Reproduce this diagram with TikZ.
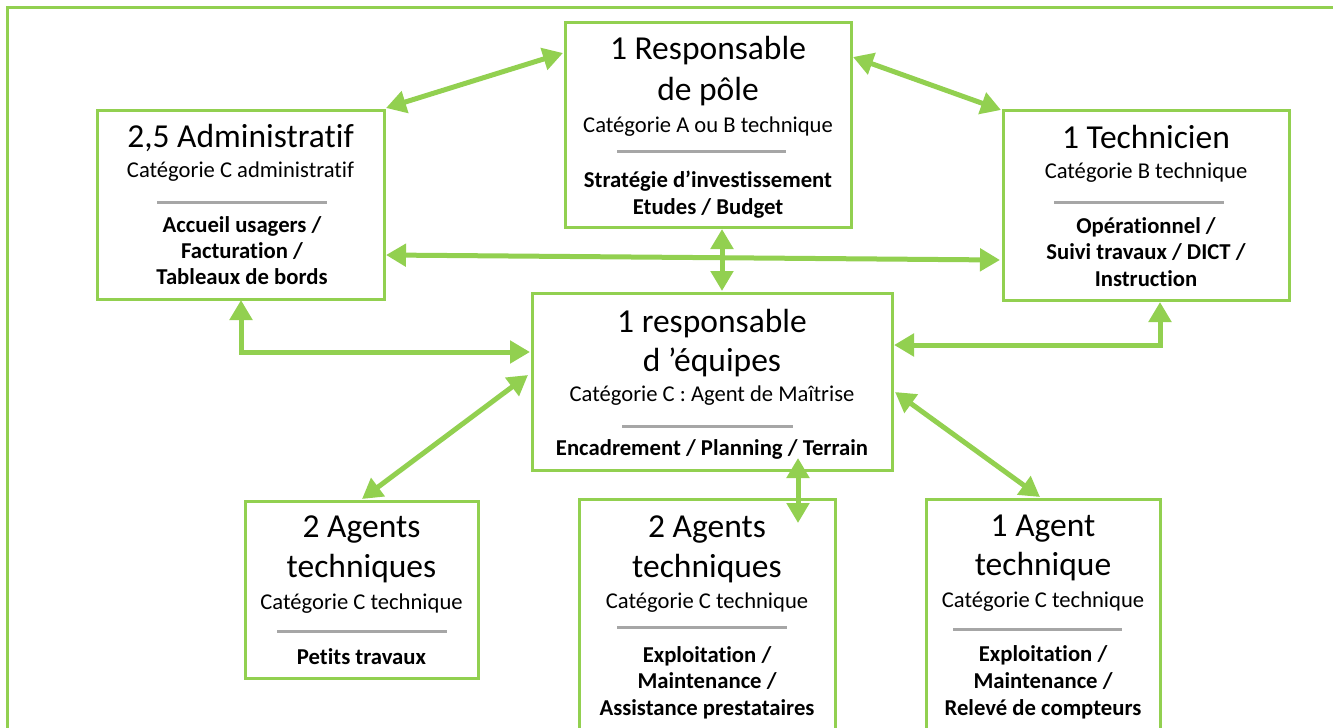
\documentclass[tikz,border=0pt]{standalone}
\usepackage{fontspec}
\setmainfont{Carlito}[Ligatures={NoCommon}]
\usetikzlibrary{arrows.meta}
\definecolor{grn}{HTML}{92D050}
\definecolor{rulegray}{HTML}{A6A6A6}
\tikzset{
  box/.style={draw=grn, line width=3pt, inner sep=0pt, fill=white},
  arr/.style={draw=grn, line width=5pt, {Triangle[length=20pt,width=22pt]}-{Triangle[length=20pt,width=22pt]}},
  ttl/.style={anchor=base, inner sep=0pt, font=\fontsize{33.5}{40}\selectfont},
  sub/.style={anchor=base, inner sep=0pt, font=\fontsize{22.6}{27}\selectfont},
  bld/.style={anchor=base, inner sep=0pt, font=\fontsize{22.7}{27}\selectfont\bfseries},
  hrule/.style={draw=rulegray, line width=3pt}
}
\begin{document}
\begin{tikzpicture}[x=1pt,y=-1pt]
\useasboundingbox (0,0) rectangle (1333,728);
\clip (0,0) rectangle (1333,728);
% outer frame
\draw[grn, line width=3pt] (7,760) -- (7,7) -- (1400,7);

% boxes
\node[box, minimum width=287pt, minimum height=189pt] (admin) at (240.5,204.5) {};
\node[box, minimum width=286pt, minimum height=205pt] (rp) at (708,124.5) {};
\node[box, minimum width=286pt, minimum height=190pt] (tech) at (1146,205) {};
\node[box, minimum width=360pt, minimum height=177pt] (re) at (712,381.5) {};
\node[box, minimum width=233pt, minimum height=177pt] (bl) at (361.5,589.5) {};
\node[box, minimum width=256pt, minimum height=242pt] (bc) at (707,620) {};
\node[box, minimum width=234pt, minimum height=242pt] (br) at (1043,620) {};

% admin texts
\node[ttl] (admin-t) at (240.5,147) {2,5 Administratif};
\node[sub] (admin-s) at (240.5,177) {Catégorie C administratif};
\draw[hrule] (157,202) -- (327,202);
\node[bld] (admin-b1) at (242,232) {Accueil usagers /};
\node[bld] (admin-b2) at (242,258) {Facturation /};
\node[bld] (admin-b3) at (242,284.5) {Tableaux de bords};

% responsable de pole
\node[ttl] (rp-t1) at (708,59) {1 Responsable};
\node[ttl] (rp-t2) at (708,100) {de pôle};
\node[sub] (rp-s) at (708,132) {Catégorie A ou B technique};
\draw[hrule] (617,151) -- (786,151);
\node[bld] (rp-b1) at (708,187) {Stratégie d’investissement};
\node[bld] (rp-b2) at (708,214) {Etudes / Budget};

% technicien
\node[ttl] (tech-t) at (1146,148) {1 Technicien};
\node[sub] (tech-s) at (1146,178) {Catégorie B technique};
\draw[hrule] (1054,202) -- (1224,202);
\node[bld] (tech-b1) at (1146,233) {Opérationnel /};
\node[bld] (tech-b2) at (1146,259) {Suivi travaux / DICT /};
\node[bld] (tech-b3) at (1146,286) {Instruction};

% responsable d'equipes
\node[ttl] (re-t1) at (712,332) {1 responsable};
\node[ttl] (re-t2) at (712,371) {d ’équipes};
\node[sub] (re-s) at (712,401) {Catégorie C : Agent de Maîtrise};
\draw[hrule] (622,426) -- (793,426);
\node[bld] (re-b) at (712,455) {Encadrement / Planning / Terrain};

% bottom left
\node[ttl] (bl-t1) at (361.5,537) {2 Agents};
\node[ttl] (bl-t2) at (361.5,577) {techniques};
\node[sub] (bl-s) at (361.5,609) {Catégorie C technique};
\draw[hrule] (277,631) -- (447,631);
\node[bld] (bl-b) at (361.5,664) {Petits travaux};

% bottom center
\node[ttl] (bc-t1) at (707,537) {2 Agents};
\node[ttl] (bc-t2) at (707,577) {techniques};
\node[sub] (bc-s) at (707,608) {Catégorie C technique};
\draw[hrule] (617,627) -- (787,627);
\node[bld] (bc-b1) at (707,662) {Exploitation /};
\node[bld] (bc-b2) at (707,688.5) {Maintenance /};
\node[bld] (bc-b3) at (707,715) {Assistance prestataires};

% bottom right
\node[ttl] (br-t1) at (1043,536) {1 Agent};
\node[ttl] (br-t2) at (1043,575) {technique};
\node[sub] (br-s) at (1043,607) {Catégorie C technique};
\draw[hrule] (953,629) -- (1122,629);
\node[bld] (br-b1) at (1043,661) {Exploitation /};
\node[bld] (br-b2) at (1043,688) {Maintenance /};
\node[bld] (br-b3) at (1043,715) {Relevé de compteurs};

% connector end points
\coordinate (p1a) at (386,108); \coordinate (p1b) at (563,53);
\coordinate (p2a) at (853,57);  \coordinate (p2b) at (1001,110);
\coordinate (p3a) at (386,255); \coordinate (p3b) at (1000,260);
\coordinate (p4a) at (722,229); \coordinate (p4b) at (722,291);
\coordinate (p5a) at (241,300); \coordinate (p5b) at (530,352);
\coordinate (p6a) at (1160,302); \coordinate (p6b) at (894,345);
\coordinate (p7a) at (528,375); \coordinate (p7b) at (362,499);
\coordinate (p8a) at (798,458); \coordinate (p8b) at (798,523);
\coordinate (p9a) at (895,392); \coordinate (p9b) at (1040,497);

\draw[arr] (p1a) -- (p1b);
\draw[arr] (p2a) -- (p2b);
\draw[arr] (p3a) -- (p3b);
\draw[arr] (p4a) -- (p4b);
\draw[arr] (p5a) |- (p5b);
\draw[arr] (p6a) |- (p6b);
\draw[arr] (p7a) -- (p7b);
\draw[arr] (p8a) -- (p8b);
\draw[arr] (p9a) -- (p9b);
\end{tikzpicture}
\end{document}
